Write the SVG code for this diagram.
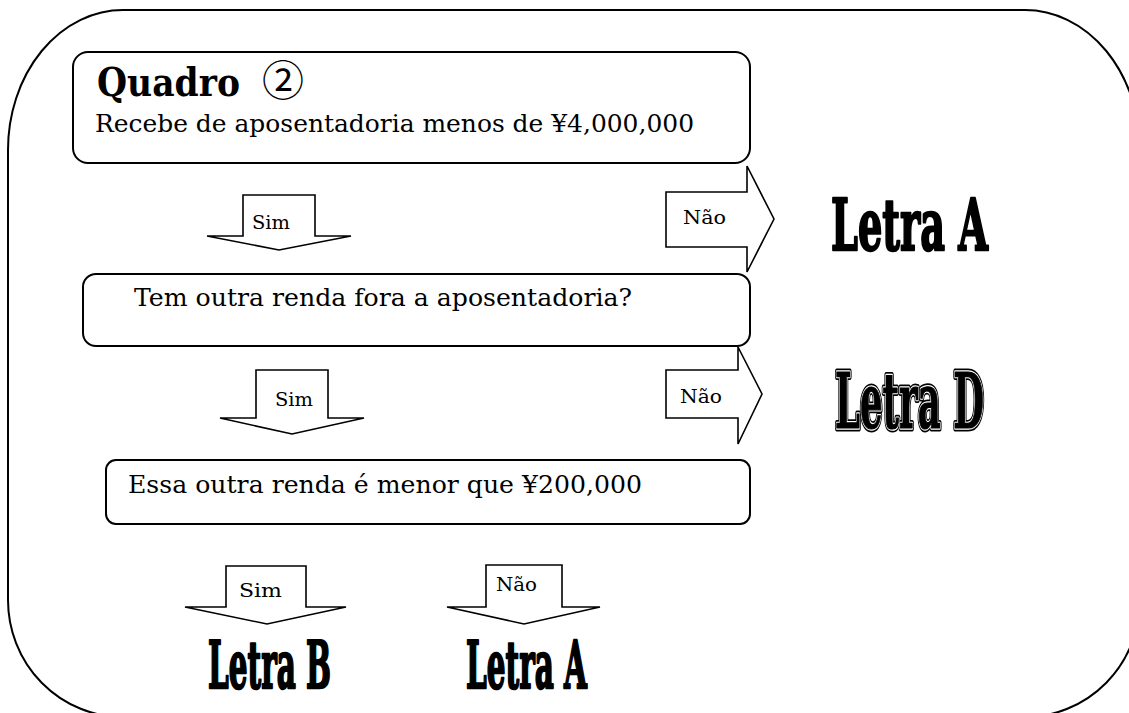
<svg xmlns="http://www.w3.org/2000/svg" width="1129" height="713" viewBox="0 0 1129 713">
<style>
.frame{fill:none;stroke:#000;stroke-width:2}
.box{fill:#fff;stroke:#000;stroke-width:2}
.arrow{fill:#fff;stroke:#000;stroke-width:1.6;stroke-linejoin:miter}
.txt{font-family:"DejaVu Serif","Liberation Serif",serif;fill:#000}
.lbl{font-family:"DejaVu Serif","Liberation Serif",serif;font-size:19px;fill:#000}
.big{font-family:"DejaVu Serif","Liberation Serif",serif;font-weight:bold;fill:#000}
.solid{stroke:#000;stroke-width:2.5;stroke-linejoin:round}
</style>
<rect width="1129" height="713" fill="#fff"/>
<path class="frame" d="M123 10 H1025 A115 140 0 0 1 1140 150 V600 A115 117 0 0 1 1025 717 H123 A115 117 0 0 1 8 600 V150 A115 140 0 0 1 123 10 Z"/>

<g id="connectors">
<path id="sim1" class="arrow" d="M243 195 H315 V236 H351 L279 250 L207 236 H243 Z"/>
<path id="nao1" class="arrow" d="M666 192 H747 V166 L774 219 L747 272 V247 H666 Z"/>
<path id="sim2" class="arrow" d="M256 370 H328 V418 H364 L292 434 L220 418 H256 Z"/>
<path id="nao2" class="arrow" d="M666 370 H738 V347 L762 394 L738 444 V418 H666 Z"/>
<path id="sim3" class="arrow" d="M226 566 H306 V607 H346 L267 624 L185 607 H226 Z"/>
<path id="nao3" class="arrow" d="M486 565 H562 V607 H600 L524 624 L447 607 H486 Z"/>
<text class="lbl" x="252" y="229" textLength="38" lengthAdjust="spacingAndGlyphs">Sim</text>
<text class="lbl" x="683" y="224" textLength="43" lengthAdjust="spacingAndGlyphs">Não</text>
<text class="lbl" x="275" y="406" textLength="38" lengthAdjust="spacingAndGlyphs">Sim</text>
<text class="lbl" x="680" y="403" textLength="42" lengthAdjust="spacingAndGlyphs">Não</text>
<text class="lbl" x="239" y="597" textLength="43" lengthAdjust="spacingAndGlyphs">Sim</text>
<text class="lbl" x="496" y="591" textLength="41" lengthAdjust="spacingAndGlyphs">Não</text>
</g>

<g id="box1">
<rect class="box" x="73" y="52" width="677" height="111" rx="15"/>
<text class="txt" x="97" y="96" font-size="40" font-weight="bold" textLength="143" lengthAdjust="spacingAndGlyphs">Quadro</text>
<text x="262" y="96" font-family="'Noto Sans CJK JP','DejaVu Sans',sans-serif" font-size="42" fill="#000">②</text>
<text class="txt" x="95" y="132" font-size="25" textLength="599" lengthAdjust="spacingAndGlyphs">Recebe de aposentadoria menos de ¥4,000,000</text>
</g>

<g id="box2">
<rect class="box" x="83" y="274" width="667" height="72" rx="13"/>
<text class="txt" x="134" y="306" font-size="25" textLength="498" lengthAdjust="spacingAndGlyphs">Tem outra renda fora a aposentadoria?</text>
</g>

<g id="box3">
<rect class="box" x="106" y="460" width="644" height="64" rx="10"/>
<text class="txt" x="128" y="493" font-size="25" textLength="514" lengthAdjust="spacingAndGlyphs">Essa outra renda é menor que ¥200,000</text>
</g>

<g id="letraA1">
<text class="big solid" transform="translate(831 250) scale(0.5 1)" font-size="71" textLength="314" lengthAdjust="spacingAndGlyphs">Letra A</text>
</g>

<g id="letraD">
<g transform="translate(835 428) scale(0.5 1)">
<text class="big" font-size="77" textLength="298" lengthAdjust="spacingAndGlyphs" fill="#000" stroke="#000" stroke-width="7" stroke-linejoin="round">Letra D</text>
<text class="big" font-size="77" textLength="298" lengthAdjust="spacingAndGlyphs" fill="#fff" stroke="#fff" stroke-width="3.5" stroke-linejoin="round">Letra D</text>
<text class="big" font-size="77" textLength="298" lengthAdjust="spacingAndGlyphs" fill="#fff" stroke="#000" stroke-width="1.2">Letra D</text>
</g>
</g>

<g id="letraB">
<text class="big solid" transform="translate(208 688) scale(0.5 1)" font-size="66" textLength="246" lengthAdjust="spacingAndGlyphs">Letra B</text>
</g>

<g id="letraA2">
<text class="big solid" transform="translate(466 688) scale(0.5 1)" font-size="66" textLength="242" lengthAdjust="spacingAndGlyphs">Letra A</text>
</g>
</svg>
